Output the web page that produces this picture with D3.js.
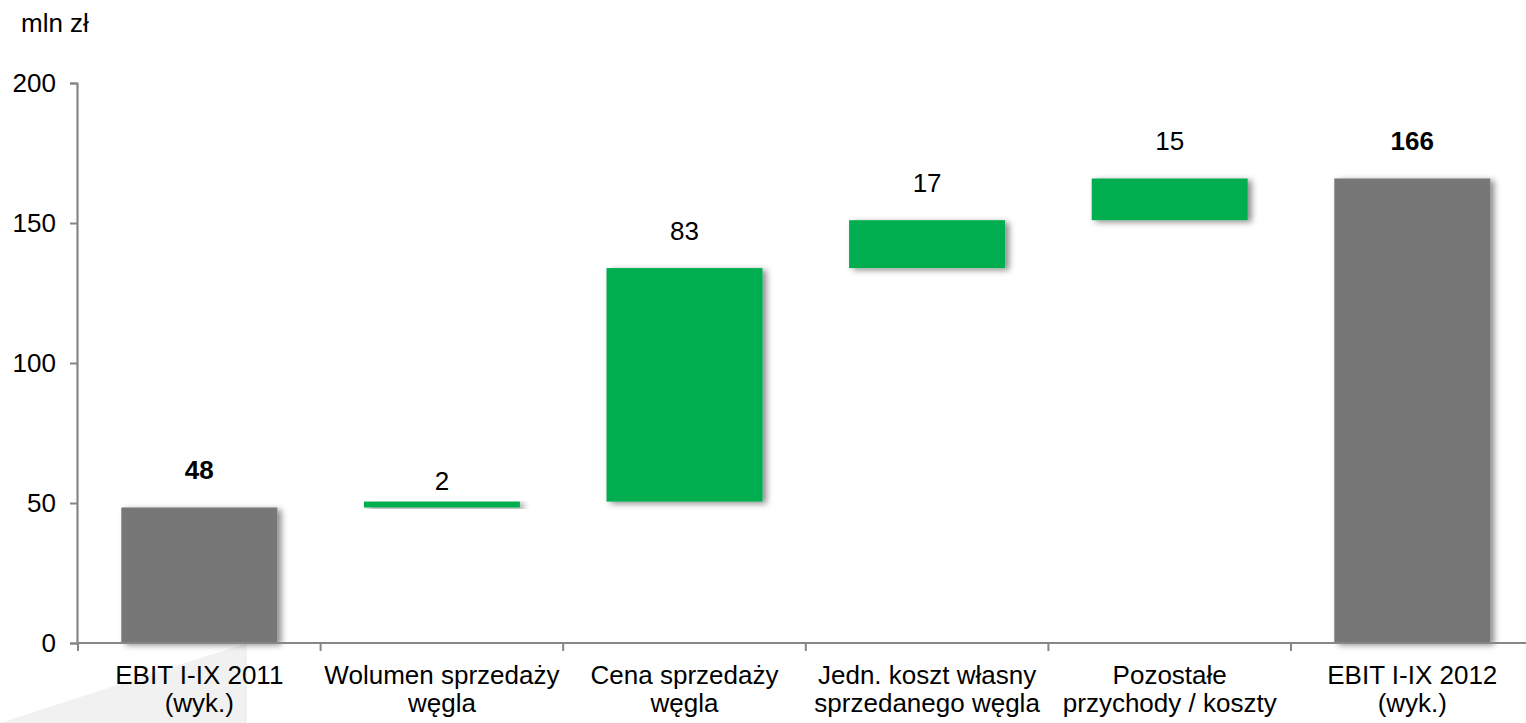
<!DOCTYPE html>
<html>
<head>
<meta charset="utf-8">
<script src="https://cdn.jsdelivr.net/npm/d3@7"></script>
<style>
  html, body { margin: 0; padding: 0; background: #ffffff; }
  svg { display: block; font-family: "Liberation Sans", Arial, sans-serif; }
</style>
</head>
<body>
<svg id="chart" width="1526" height="723"></svg>
<script>
// ---- data ----
const categories = [
  ["EBIT I-IX 2011", "(wyk.)"],
  ["Wolumen sprzedaży", "węgla"],
  ["Cena sprzedaży", "węgla"],
  ["Jedn. koszt własny", "sprzedanego węgla"],
  ["Pozostałe", "przychody / koszty"],
  ["EBIT I-IX 2012", "(wyk.)"]
];
const values = [48.4, 2.1, 83.4, 17.1, 14.9, 165.9];
const kinds = ["total", "delta", "delta", "delta", "delta", "total"];
const valueLabels = ["48", "2", "83", "17", "15", "166"];
const yTicks = [0, 50, 100, 150, 200];
const unitLabel = "mln zł";

// ---- layout ----
const W = 1526, H = 723;
const FS = 26;
const svg = d3.select("#chart");
const x = d3.scaleBand()
  .domain(d3.range(categories.length))
  .range([78, 78 + 6 * 242.6])
  .paddingInner(0.357)
  .paddingOuter(0.357 / 2);
const y = d3.scaleLinear().domain([0, 200]).range([643, 83]);

const colors = { total: "#777777", delta: "#00ad50" };

// watermark wedge
svg.append("polygon")
  .attr("points", [[0, 723], [247, 643], [247, 723]].map(p => p.join(",")).join(" "))
  .attr("fill", "#f1f1f1");

// shadow filter
const defs = svg.append("defs");
const f = defs.append("filter").attr("id", "shadow")
  .attr("x", "-10%").attr("y", "-10%").attr("width", "130%").attr("height", "130%");
f.append("feDropShadow")
  .attr("dx", 4).attr("dy", 2).attr("stdDeviation", 3)
  .attr("flood-color", "#000").attr("flood-opacity", 0.45);

// compute waterfall segments
let cum = 0;
const segs = values.map((v, i) => {
  let lo, hi;
  if (kinds[i] === "total") { lo = 0; hi = v; cum = v; }
  else { lo = cum; hi = cum + v; cum = hi; }
  return { i, lo, hi, v, kind: kinds[i], label: valueLabels[i] };
});

// bars
svg.append("g").selectAll("rect").data(segs).join("rect")
  .attr("x", d => x(d.i))
  .attr("width", x.bandwidth())
  .attr("y", d => y(d.hi))
  .attr("height", d => Math.max(1, y(d.lo) - y(d.hi)))
  .attr("fill", d => colors[d.kind])
  .attr("filter", "url(#shadow)");

// value labels
svg.append("g").selectAll("text").data(segs).join("text")
  .attr("x", d => x(d.i) + x.bandwidth() / 2)
  .attr("y", d => y(d.hi) - (Math.abs(d.v) < 5 ? 12 : 28))
  .attr("text-anchor", "middle")
  .attr("font-size", FS)
  .attr("font-weight", d => d.kind === "total" ? "bold" : "normal")
  .attr("fill", "#000")
  .text(d => d.label);

// y axis
const axisColor = "#868686";
const yAxis = svg.append("g").attr("transform", "translate(77,0)")
  .call(d3.axisLeft(y).tickValues(yTicks).tickSize(7).tickPadding(14).tickFormat(d3.format("d")));
yAxis.select(".domain").attr("stroke", axisColor).attr("stroke-width", 2.2);
yAxis.selectAll(".tick line").attr("stroke", axisColor).attr("stroke-width", 2);
yAxis.selectAll(".tick text").attr("font-size", FS).attr("fill", "#000")
  .attr("font-family", "Liberation Sans, Arial, sans-serif");

// x axis line
svg.append("line")
  .attr("x1", 77).attr("x2", W).attr("y1", y(0)).attr("y2", y(0))
  .attr("stroke", axisColor).attr("stroke-width", 2.2);
// x ticks at band boundaries
const bounds = d3.range(categories.length + 1).map(i => 78 + i * x.step());
svg.append("g").selectAll("line").data(bounds).join("line")
  .attr("x1", d => d).attr("x2", d => d)
  .attr("y1", y(0)).attr("y2", y(0) + 8)
  .attr("stroke", axisColor).attr("stroke-width", 2);

// category labels
const cat = svg.append("g").selectAll("text").data(categories).join("text")
  .attr("text-anchor", "middle")
  .attr("font-size", FS)
  .attr("fill", "#000")
  .attr("transform", (d, i) => `translate(${x(i) + x.bandwidth() / 2},0)`);
cat.append("tspan").attr("x", 0).attr("y", 684).text(d => d[0]);
cat.append("tspan").attr("x", 0).attr("y", 712).text(d => d[1]);

// unit label
svg.append("text").attr("x", 21).attr("y", 32)
  .attr("font-size", FS).attr("fill", "#000").text(unitLabel);
</script>
</body>
</html>
